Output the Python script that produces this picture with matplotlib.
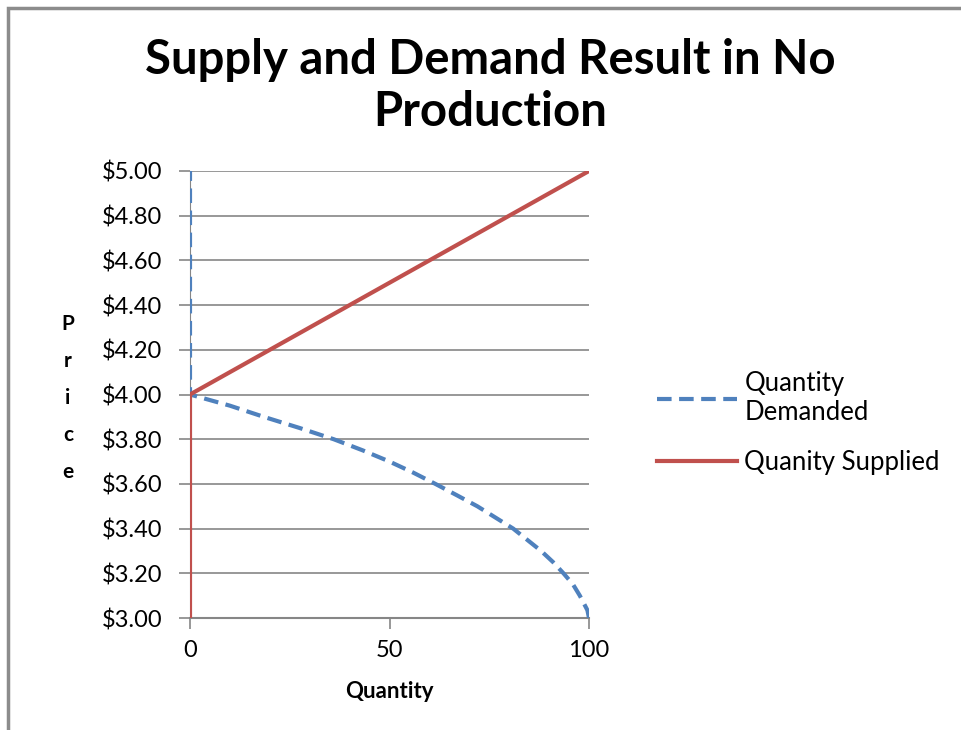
import matplotlib

matplotlib.use("Agg")

import matplotlib.pyplot as plt
from matplotlib.patches import Rectangle
from matplotlib.ticker import FuncFormatter

plt.rcParams["font.family"] = ["Lato", "DejaVu Sans"]

# Data
price = [3.0, 3.035, 3.1, 3.15, 3.2, 3.25, 3.3, 3.4, 3.5, 3.55, 3.6,
         3.65, 3.7, 3.75, 3.8, 3.85, 3.9, 3.95, 4.0,
         4.2, 4.4, 4.6, 4.8, 5.0]
qty_demanded = [100, 99.6, 97.7, 96, 93.6, 91, 88, 81, 72, 66.8, 61.5,
                56, 50, 43.3, 36, 27.5, 18.5, 10, 0,
                0, 0, 0, 0, 0]
supply_price = [3.0, 3.2, 3.4, 3.6, 3.8, 4.0, 4.2, 4.4, 4.6, 4.8, 5.0]
qty_supplied = [0, 0, 0, 0, 0, 0, 20, 40, 60, 80, 100]

blue = "#4F81BD"
red = "#C0504D"
grid_gray = "#868686"

fig = plt.figure(figsize=(9.61, 7.30), dpi=100)
ax = fig.add_axes([190 / 961, 1 - 618 / 730, 399 / 961, 447 / 730])

# chart border (left and top visible)
fig.patches.append(Rectangle((8 / 961, -0.05), 1.2, 1 - 8 / 730 + 0.05,
                             transform=fig.transFigure, fill=False,
                             edgecolor="#8C8C8C", linewidth=2.5))

ax.plot(qty_demanded, price, color=blue, linewidth=3, linestyle=(0, (3.5, 1.8)),
        label="Quantity\nDemanded", zorder=3)
ax.plot(qty_supplied, supply_price, color=red, linewidth=3,
        label="Quanity Supplied", zorder=3)

ax.set_xlim(0, 100)
ax.set_ylim(3.0, 5.0)
ax.set_xticks([0, 50, 100])
ax.set_yticks([3.0 + 0.2 * i for i in range(11)])
ax.yaxis.set_major_formatter(FuncFormatter(lambda v, p: f"${v:.2f}"))
ax.grid(axis="y", color=grid_gray, linewidth=1.2)
ax.set_axisbelow(True)

for s in ["top", "right"]:
    ax.spines[s].set_visible(False)
ax.spines["left"].set_color(grid_gray)
ax.spines["bottom"].set_color(grid_gray)
ax.spines["bottom"].set_linewidth(1.5)
ax.tick_params(axis="both", colors=grid_gray, labelcolor="black", labelsize=17,
               length=8, width=1.2)
ax.tick_params(axis="y", pad=12)
ax.tick_params(axis="x", pad=8)

ax.set_xlabel("Quantity", fontsize=16, fontweight="bold", labelpad=14)
fig.text(68 / 961, 1 - 398 / 730, "P\nr\ni\nc\ne", fontsize=15,
         fontweight="bold", ha="center", va="center", linespacing=2.05)

fig.text(490 / 961, 1 - 86 / 730, "Supply and Demand Result in No\nProduction",
         fontsize=34, fontweight="bold", ha="center", va="center",
         linespacing=1.2)

ax.legend(loc="center left", bbox_to_anchor=(634 / 961, 1 - 423 / 730),
          bbox_transform=fig.transFigure, frameon=False, fontsize=18.5,
          handlelength=3.1, handletextpad=0.3, labelspacing=0.95)

fig.savefig("out.png", dpi=100)
